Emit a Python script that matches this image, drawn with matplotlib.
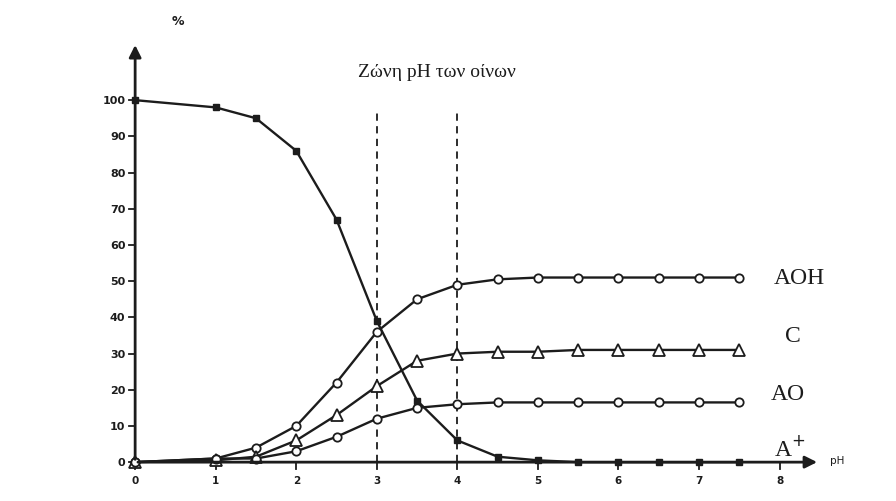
import matplotlib.pyplot as plt

# pH sampling points
ph = [0, 1, 1.5, 2, 2.5, 3, 3.5, 4, 4.5, 5, 5.5, 6, 6.5, 7, 7.5]

# % of each form
a_plus = [100, 98, 95, 86, 67, 39, 17, 6, 1.5, 0.5, 0, 0, 0, 0, 0]
aoh = [0, 1, 4, 10, 22, 36, 45, 49, 50.5, 51, 51, 51, 51, 51, 51]
c_form = [0, 0.5, 1.5, 6, 13, 21, 28, 30, 30.5, 30.5, 31, 31, 31, 31, 31]
ao = [0, 1, 1, 3, 7, 12, 15, 16, 16.5, 16.5, 16.5, 16.5, 16.5, 16.5, 16.5]

labels = ['AOH', 'C', 'AO', 'A$^{+}$']
label_x = [8.25, 8.16, 8.1, 8.13]
label_y = [51, 35, 19, 0.6]

x_ticks = list(range(0, 9))
y_ticks = list(range(0, 101, 10))
zone = [3, 4]

ink = '#1c1c1c'
serif = ['Liberation Serif', 'DejaVu Serif']

fig = plt.figure(figsize=(8.96, 5.02), dpi=100)
ax = fig.add_axes([115 / 896, 1 - 474 / 502, 721 / 896, 438 / 502])
ax.set_xlim(-0.25, 8.7)
ax.set_ylim(-3, 118)
for s in ax.spines.values():
    s.set_visible(False)

# axes with arrows
ax.annotate('', xy=(8.5, 0), xytext=(0, 0),
            arrowprops=dict(arrowstyle='-|>', color=ink, lw=2, mutation_scale=18))
ax.annotate('', xy=(0, 116), xytext=(0, 0),
            arrowprops=dict(arrowstyle='-|>', color=ink, lw=2, mutation_scale=18))

# ticks
for t in x_ticks:
    ax.plot([t, t], [0, -1.8], color=ink, lw=1.3, clip_on=False)
    ax.text(t, -3.6, str(t), ha='center', va='top', fontsize=7.5,
            fontweight='bold', color=ink)
for t in y_ticks:
    ax.plot([0, -0.08], [t, t], color=ink, lw=1.3, clip_on=False)
    ax.text(-0.12, t, str(t), ha='right', va='center', fontsize=8,
            fontweight='bold', color=ink)
ax.set_xticks([])
ax.set_yticks([])

ax.text(8.62, 0.5, 'pH', ha='left', va='center', fontsize=7.5, color=ink)
ax.text(0.53, 122, '%', ha='center', va='center', fontsize=9,
        fontweight='bold', color=ink)

# wine pH zone
for z in zone:
    ax.plot([z, z], [0, 97.5], color=ink, lw=1.3, ls=(0, (4, 3)))
ax.text(3.75, 108, 'Ζώνη pH των οίνων', ha='center', va='center',
        fontsize=14, family=serif, color=ink)

# curves
ax.plot(ph, a_plus, color=ink, lw=1.7, marker='s', ms=4, mfc=ink, mec=ink)
ax.plot(ph, aoh, color=ink, lw=1.7, marker='o', ms=6, mfc='white', mec=ink, mew=1.3)
ax.plot(ph, c_form, color=ink, lw=1.7, marker='^', ms=8, mfc='white', mec=ink, mew=1.3)
ax.plot(ph, ao, color=ink, lw=1.7, marker='o', ms=6, mfc='white', mec=ink, mew=1.3)

for lab, x, y in zip(labels, label_x, label_y):
    ax.text(x, y, lab, ha='center', va='bottom' if lab.startswith('A$') else 'center',
            fontsize=17, family=serif, color=ink)

fig.savefig('out.png', dpi=100, facecolor='white')
